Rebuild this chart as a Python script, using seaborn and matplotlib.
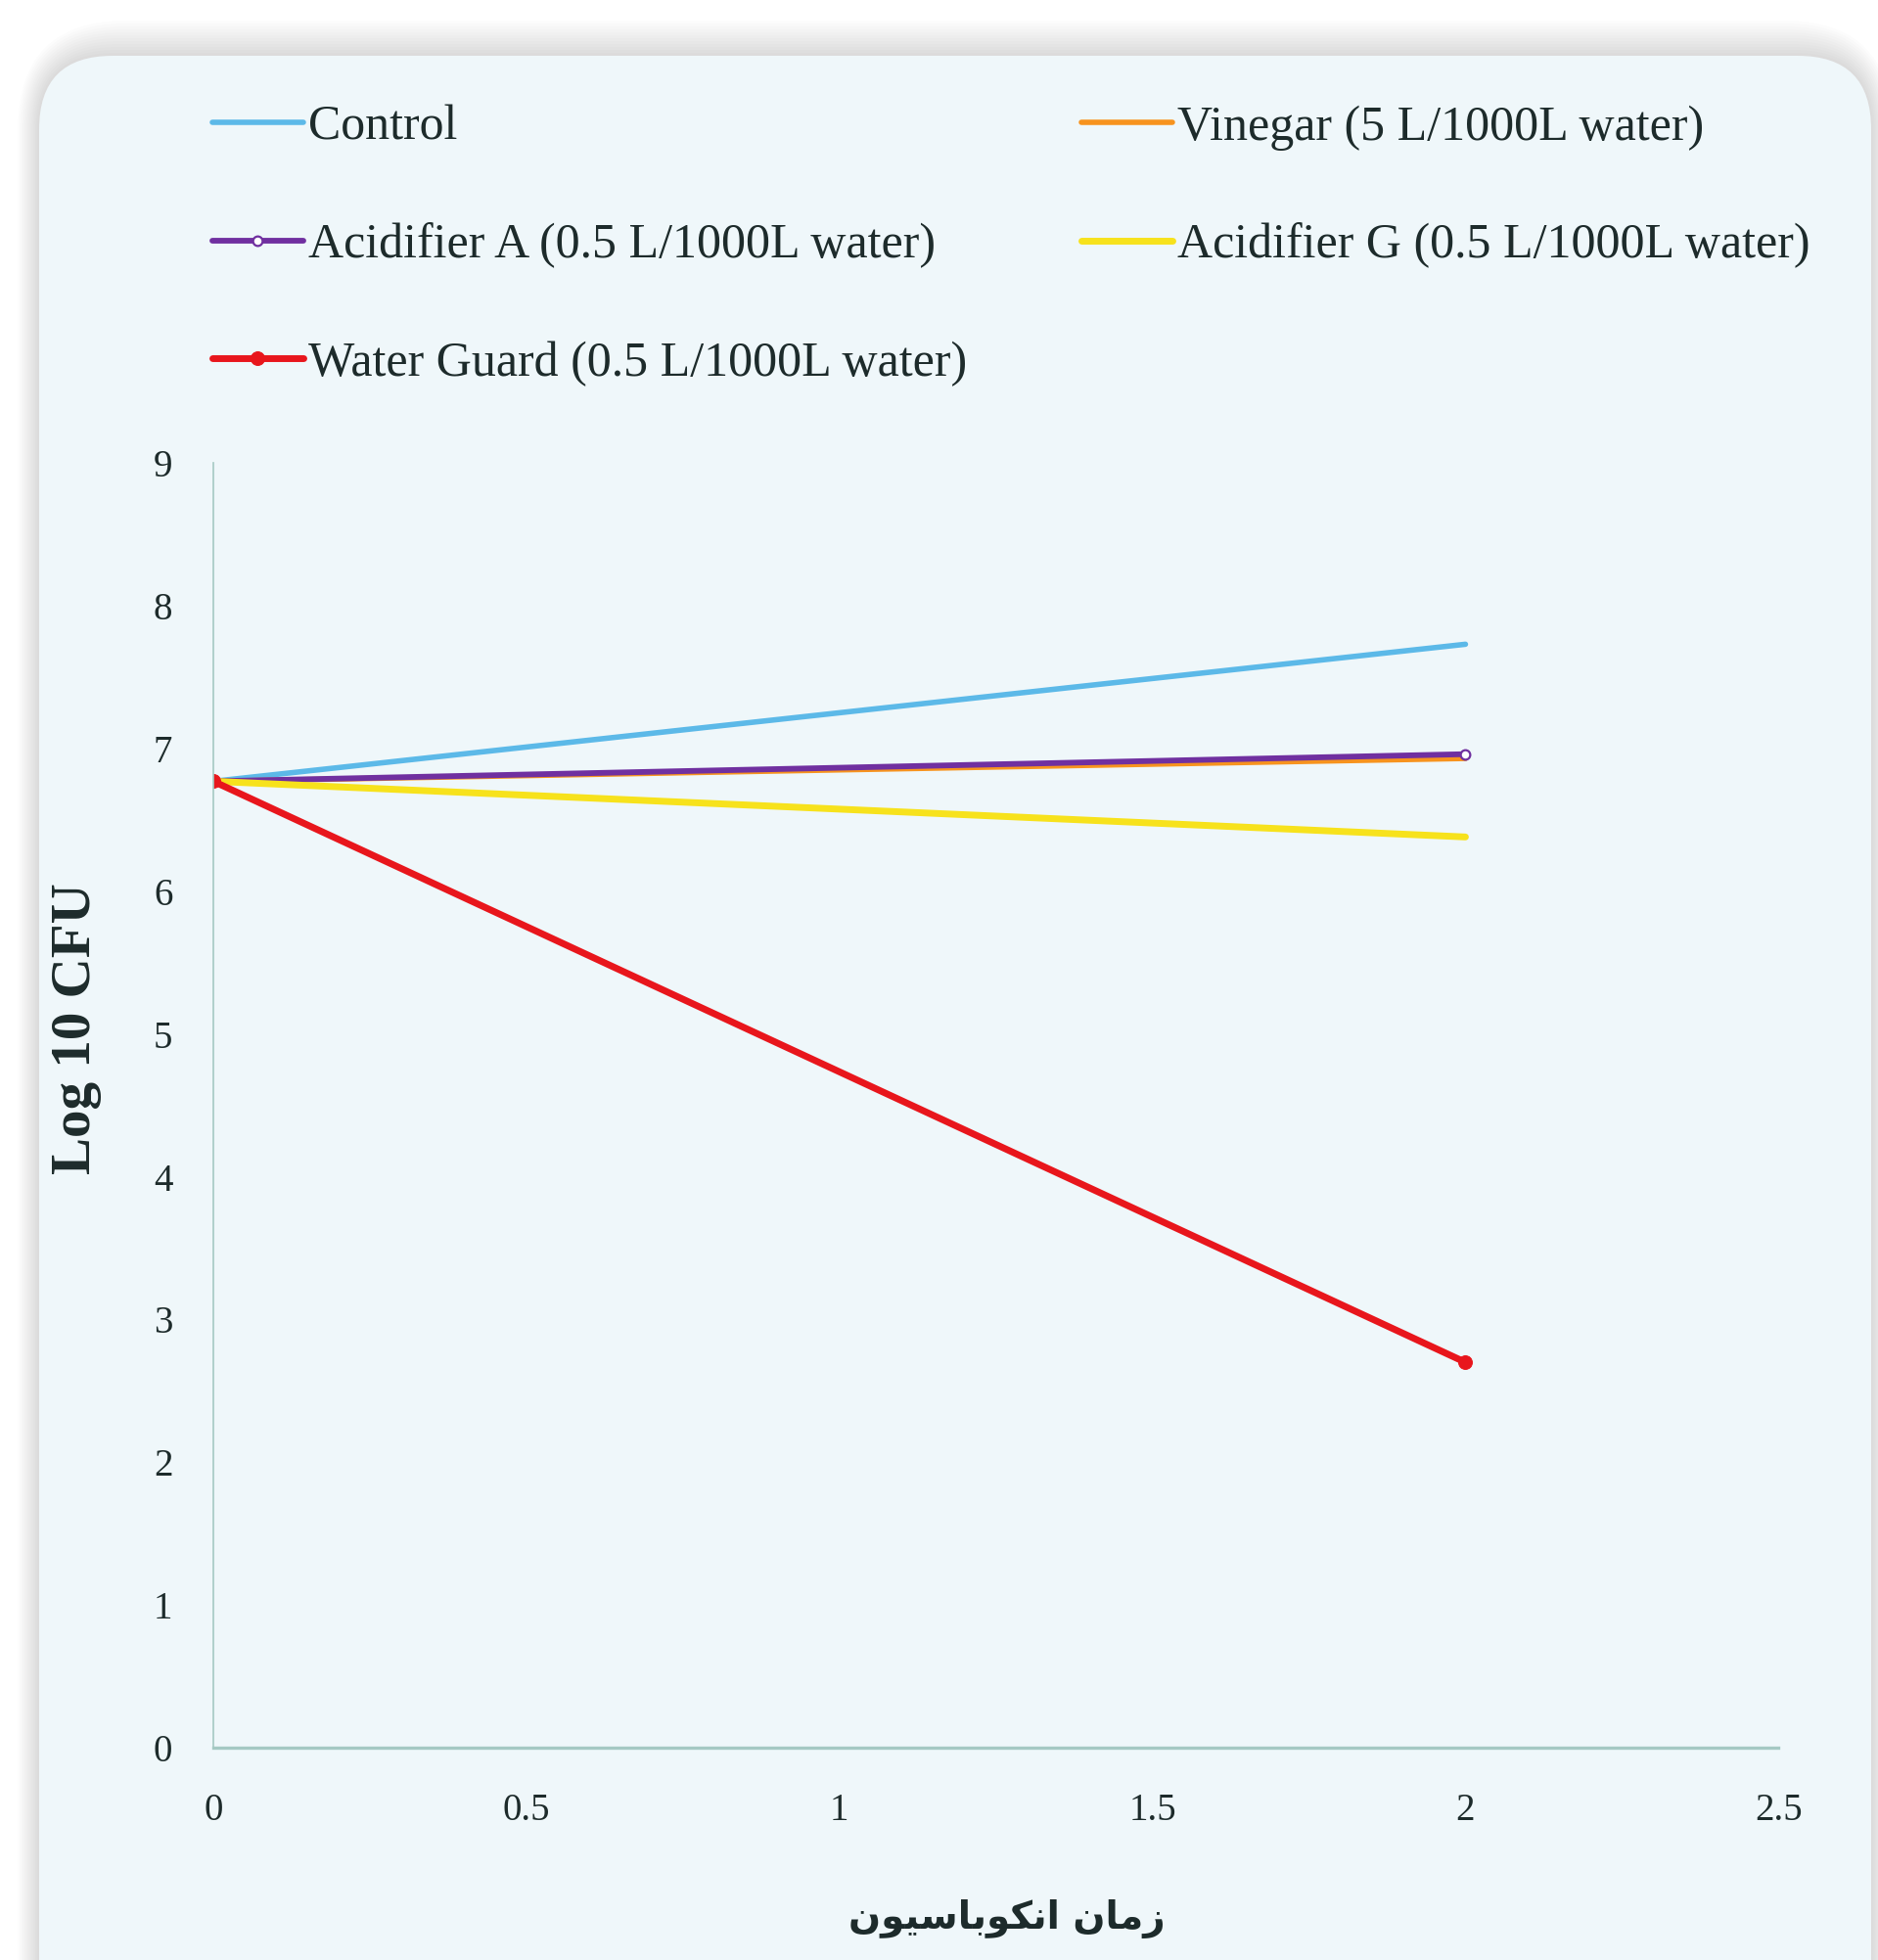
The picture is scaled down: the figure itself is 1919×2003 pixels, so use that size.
import pandas as pd
import matplotlib
matplotlib.use("Agg")
import matplotlib.pyplot as plt
from matplotlib.patches import FancyBboxPatch
from matplotlib.transforms import IdentityTransform
import seaborn as sns

# values
times = [0, 2]
control = [6.77, 7.73]
vinegar = [6.77, 6.93]
acid_a = [6.77, 6.96]
acid_g = [6.77, 6.38]
water_guard = [6.77, 2.70]

labels = ["Control", "Vinegar (5 L/1000L water)", "Acidifier A (0.5 L/1000L water)",
          "Acidifier G (0.5 L/1000L water)", "Water Guard (0.5 L/1000L water)"]
colors = ["#5cb9e8", "#f7931e", "#7030a0", "#f7e21c", "#e8161c"]
xticks = [0, 0.5, 1, 1.5, 2, 2.5]
xticklabels = ["0", "0.5", "1", "1.5", "2", "2.5"]
yticks = list(range(10))

# Persian x label, shaped by hand (matplotlib has no RTL shaping)
xlabel_logical = "\uFEAF\uFEE3\uFE8E\uFEE5 \uFE8D\uFEE7\uFB91\uFEEE\uFE91\uFE8E\uFEB3\uFBFF\uFEEE\uFEE5"
xlabel_visual = xlabel_logical[::-1]

sns.set_theme(style="white")
plt.rcParams['font.family'] = ['Liberation Serif', 'DejaVu Serif']
txt = "#1d2b2b"
spine_col = "#a5c9c3"

fig = plt.figure(figsize=(19.19, 20.03), dpi=100)
fig.patch.set_facecolor("white")

# soft shadow + rounded panel
for g in range(36, 0, -3):
    fig.patches.append(FancyBboxPatch((40 - g * 0.6, -200), 1872 + g * 1.2, 2003 - 57 + 200 + g,
                                      boxstyle="round,pad=0,rounding_size=%d" % (75 + g),
                                      transform=IdentityTransform(), facecolor="#7a6c6c",
                                      edgecolor="none", alpha=0.018, zorder=-3))
fig.patches.append(FancyBboxPatch((40, -200), 1872, 2003 - 57 + 200,
                                  boxstyle="round,pad=0,rounding_size=75",
                                  transform=IdentityTransform(), facecolor="#eff7fa",
                                  edgecolor="none", zorder=-2))

ax = fig.add_axes([0.1136, 0.1083, 0.8334, 0.6555])
ax.patch.set_alpha(0)

series = [control, vinegar, acid_a, acid_g, water_guard]
styles = [dict(lw=4.0),
          dict(lw=4.0),
          dict(lw=4.2, marker="o", markersize=7, markerfacecolor="white", markeredgewidth=1.6),
          dict(lw=5.0),
          dict(lw=5.0, marker="o", markersize=10)]
lines = []
for vals, lab, col, st in zip(series, labels, colors, styles):
    df = pd.DataFrame({"time": times, "cfu": vals})
    sns.lineplot(data=df, x="time", y="cfu", color=col, ax=ax, label=lab, **st)
    lines.append(ax.get_lines()[-1])
    lines[-1].set_markeredgecolor(col)
ax.get_legend().remove()

ax.set_xlim(0, 2.5)
ax.set_ylim(0, 9)
ax.set_xticks(xticks)
ax.set_xticklabels(xticklabels)
ax.set_yticks(yticks)
ax.tick_params(axis="x", length=0, pad=33, labelsize=28, labelcolor=txt)
ax.tick_params(axis="y", length=0, pad=30, labelsize=28, labelcolor=txt)
for s in ["top", "right"]:
    ax.spines[s].set_visible(False)
ax.spines["left"].set_color(spine_col)
ax.spines["left"].set_linewidth(1.2)
ax.spines["bottom"].set_color(spine_col)
ax.spines["bottom"].set_linewidth(2.4)
ax.grid(False)

ax.set_ylabel("Log 10 CFU", fontsize=41, fontweight="bold", color=txt)
ax.yaxis.set_label_coords(-0.071, 0.56)
ax.set_xlabel(xlabel_visual, fontsize=28, fontweight="bold", color=txt,
              family=["DejaVu Sans"])
ax.xaxis.label.set_va("center")
ax.xaxis.set_label_coords(0.507, -0.133)

leg_kw = dict(frameon=False, fontsize=36, handlelength=1.85, handletextpad=0.1,
              labelspacing=1.48, borderaxespad=0, borderpad=0, labelcolor=txt)
fig.legend([lines[0], lines[2], lines[4]], [labels[0], labels[2], labels[4]],
           loc="upper left", bbox_to_anchor=(217 / 1919, 1 - 107 / 2003), **leg_kw)
fig.legend([lines[1], lines[3]], [labels[1], labels[3]],
           loc="upper left", bbox_to_anchor=(1105 / 1919, 1 - 107 / 2003), **leg_kw)

fig.savefig("out.png", dpi=100)
